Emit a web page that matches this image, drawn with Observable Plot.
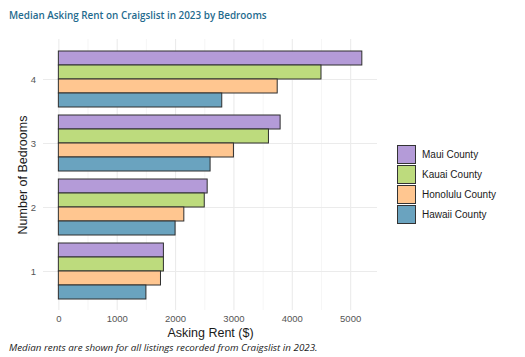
<!DOCTYPE html>
<html><head><meta charset="utf-8">
<script src="https://cdn.jsdelivr.net/npm/d3@7"></script>
<script src="https://cdn.jsdelivr.net/npm/@observablehq/plot@0.6"></script>
<style>
body{margin:0;background:#fff;}
#wrap{position:relative;width:525px;height:357px;overflow:hidden;background:#fff;}
#title{position:absolute;left:9px;top:9.5px;font-family:"Open Sans";font-weight:600;font-size:9.9px;line-height:10px;color:#1f6b8e;white-space:nowrap;}
#chart{position:absolute;left:0;top:28px;width:525px;height:312px;}
#chart svg{position:absolute;left:0;top:0;}
#caption{position:absolute;left:9px;top:343px;font-family:"Open Sans";font-style:italic;font-size:9.8px;line-height:9.8px;color:#222;white-space:nowrap;}
#legend{position:absolute;left:397px;top:144px;font-family:"Liberation Sans",Arial,sans-serif;}
.row{display:flex;align-items:center;height:20px;}
.sw{width:17px;height:17px;border:1px solid #333;}
.lb{margin-left:6px;font-size:10px;color:#1a1a1a;white-space:nowrap;}
</style>
</head><body>
<div id="wrap">
<div id="title">Median Asking Rent on Craigslist in 2023 by Bedrooms</div>
<div id="chart"></div>
<div id="legend"></div>
<div id="caption">Median rents are shown for all listings recorded from Craigslist in 2023.</div>
</div>
<script>
const bedrooms = ["1", "2", "3", "4"];
const counties = ["Maui County", "Kauai County", "Honolulu County", "Hawaii County"];
const maui = [1800, 2550, 3800, 5200];
const kauai = [1800, 2500, 3600, 4500];
const honolulu = [1750, 2150, 3000, 3750];
const hawaii = [1500, 2000, 2600, 2800];
const colors = ["#b49bd8", "#bddb7d", "#ffc690", "#6aa3bf"];
const xTicks = [0, 1000, 2000, 3000, 4000, 5000];
const xMinor = [500, 1500, 2500, 3500, 4500];
const xTitle = "Asking Rent ($)";
const yTitle = "Number of Bedrooms";

const series = [maui, kauai, honolulu, hawaii];
const rows = [];
bedrooms.forEach((b, i) => counties.forEach((c, j) => rows.push({bedrooms: b, county: c, rent: series[j][i]})));

const common = {
  width: 525, height: 312,
  marginTop: 11, marginBottom: 30, marginLeft: 43, marginRight: 148,
  style: {fontFamily: "'Liberation Sans', Arial, sans-serif", background: "transparent", overflow: "visible"}
};
const xDomain = [-263, 5460];
const bedOrder = [...bedrooms].reverse();

// background: grid, axes, titles
const back = Plot.plot({
  ...common,
  x: {domain: xDomain, axis: null},
  y: {type: "point", domain: bedOrder, padding: 0.6, axis: null},
  marks: [
    Plot.ruleX(xMinor, {x: d => d, stroke: "#f2f2f2", strokeWidth: 0.7}),
    Plot.ruleX(xTicks, {x: d => d, stroke: "#ebebeb", strokeWidth: 1.1}),
    Plot.ruleY(bedOrder, {y: d => d, stroke: "#ebebeb", strokeWidth: 1.1}),
    Plot.axisY({anchor: "left", tickSize: 0, tickPadding: 7.5, fontSize: 9.5, color: "#555", label: null}),
    Plot.axisX({ticks: xTicks, tickFormat: "d", tickSize: 0, tickPadding: 5, fontSize: 9.5, color: "#555", label: null}),
    Plot.text([xTitle], {text: d => d, frameAnchor: "bottom", lineAnchor: "middle", textAnchor: "middle", dy: 22, fontSize: 12.5, fill: "#1a1a1a"}),
    Plot.text([yTitle], {text: d => d, frameAnchor: "left", lineAnchor: "middle", textAnchor: "middle", dx: -21, rotate: -90, fontSize: 12.5, fill: "#1a1a1a"})
  ]
});

// foreground: bars, faceted by bedrooms
const front = Plot.plot({
  ...common,
  x: {domain: xDomain, axis: null},
  y: {domain: counties, padding: 0, axis: null},
  fy: {domain: bedOrder, paddingInner: 0.1, paddingOuter: 0.15, axis: null},
  color: {domain: counties, range: colors},
  marks: [
    Plot.barX(rows, {x: "rent", y: "county", fy: "bedrooms", fill: "county", stroke: "#2e2e2e", strokeWidth: 1})
  ]
});

const chartDiv = document.getElementById("chart");
chartDiv.appendChild(back);
chartDiv.appendChild(front);

const legend = document.getElementById("legend");
counties.forEach((c, i) => {
  const row = document.createElement("div");
  row.className = "row";
  const sw = document.createElement("div");
  sw.className = "sw";
  sw.style.background = colors[i];
  const lb = document.createElement("span");
  lb.className = "lb";
  lb.textContent = c;
  row.appendChild(sw); row.appendChild(lb);
  legend.appendChild(row);
});
</script>
</body></html>
